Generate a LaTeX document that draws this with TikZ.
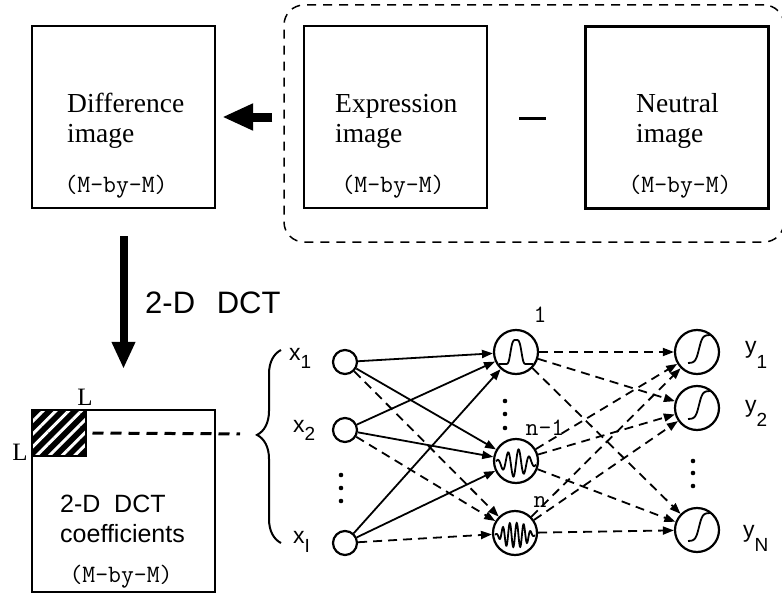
\documentclass[tikz,border=0pt]{standalone}
\usepackage{fontspec}
\setmainfont{Liberation Serif}
\setsansfont{Liberation Sans}
\usetikzlibrary{arrows.meta,decorations.pathreplacing,patterns.meta}

% variable with a lowered index
\newcommand{\varlab}[3]{{\sffamily\fontsize{23}{23}\selectfont #1\raisebox{-#3pt}{\fontsize{19}{19}\selectfont #2}}}

\begin{document}
\begin{tikzpicture}[x=1pt,y=-1pt,
    imgbox/.style={draw,line width=2.3pt,minimum width=183pt,minimum height=182pt,inner sep=0pt},
    groupbox/.style={draw,line width=1.5pt,dash pattern=on 9pt off 7pt,rounded corners=20pt,minimum width=500pt,minimum height=237pt},
    boxtext/.style={anchor=west,align=left,inner sep=0pt,font=\fontsize{27.5}{30}\selectfont},
    dimtext/.style={inner sep=0pt,font=\ttfamily\fontsize{25}{25}\selectfont},
    inp/.style={draw,circle,line width=2.2pt,minimum size=24pt,inner sep=0pt},
    unit/.style={draw,circle,line width=2.2pt,minimum size=44pt,inner sep=0pt},
    link/.style={line width=1.8pt,-{Triangle[length=11pt,width=8pt]}},
    dlink/.style={link,dash pattern=on 9pt off 6pt},
    fatarrow/.style={line width=9pt,-{Triangle[length=31pt,width=25pt]}},
  ]
  \useasboundingbox (0,0) rectangle (782,594);

  % top row: the three images
  \node[imgbox] (diff) at (123.5,117) {};
  \node[imgbox] (expr) at (395.5,117) {};
  \node[imgbox] (neut) at (677,117.5) {};
  \node[groupbox] (pair) at (534,123.5) {}; % dashed frame round the two inputs
  \node[boxtext] (difft) at (67,121) {Difference\\image};
  \node[boxtext] (exprt) at (335,121) {Expression\\image};
  \node[boxtext] (neutt) at (636,121) {Neutral\\image};
  \node[dimtext] (diffd) at (116,187) {(M-by-M)};
  \node[dimtext] (exprd) at (393,187) {(M-by-M)};
  \node[dimtext] (neutd) at (680,187) {(M-by-M)};
  \draw[line width=3pt] (519,118) -- (546,118); % minus sign
  \draw[fatarrow,shorten <=11pt,shorten >=6pt] (pair.west |- diff.east) -- (diff.east);

  % DCT block
  \node[imgbox] (dct) at (123.5,501) {};
  \draw[line width=8pt,-{Triangle[length=27pt,width=22pt]},shorten <=27pt,shorten >=40pt] (diff.south) -- (dct.north);
  \node[anchor=west,inner sep=0pt,font=\sffamily\fontsize{31}{31}\selectfont] (dctlab) at (145,303) {2-D\hspace{0.7em}DCT};
  \node[anchor=west,align=left,inner sep=0pt,font=\sffamily\fontsize{25}{30}\selectfont] (dctt) at (60,519) {2-D\hspace{0.55em}DCT\\coefficients};
  \node[dimtext] (dctd) at (121,577) {(M-by-M)};
  \node[draw,line width=2.5pt,minimum width=54pt,minimum height=46pt,inner sep=0pt,
    preaction={fill=black},pattern={Lines[angle=45,distance=9pt,line width=3pt]},pattern color=white] (blk) at (59,433) {}; % L-by-L corner
  \node[inner sep=0pt,font=\fontsize{25}{25}\selectfont] (ltop) at (85,397) {L};
  \node[inner sep=0pt,font=\fontsize{25}{25}\selectfont] (lleft) at (20,452) {L};

  % brace gathering the inputs
  \coordinate (brb) at (281,543);
  \coordinate (brt) at (281,350);
  \coordinate (tip) at (257,434);
  \draw[line width=2pt,decorate,decoration={brace,amplitude=24pt,aspect=0.56}] (brb) -- (brt);
  \draw[line width=3pt,dash pattern=on 11pt off 7pt,shorten <=5pt,shorten >=17pt] (blk.east) -- (tip);

  % network
  \node[inp] (in1) at (345,362) {};
  \node[inp] (in2) at (345,430) {};
  \node[inp] (in3) at (345,543) {};
  \node[unit] (h1) at (516,352) {};
  \node[unit] (h2) at (516,461) {};
  \node[unit] (h3) at (515,533) {};
  \node[unit] (o1) at (697,352) {};
  \node[unit] (o2) at (697,408) {};
  \node[unit] (o3) at (697,530) {};

  \node[anchor=base west,inner sep=0pt] (xl1) at (289,360) {\varlab{x}{1}{8}};
  \node[anchor=base west,inner sep=0pt] (xl2) at (293,432) {\varlab{x}{2}{8}};
  \node[anchor=base west,inner sep=0pt] (xl3) at (293,543) {\varlab{x}{I}{9}};
  \node[anchor=base west,inner sep=0pt] (yl1) at (745,353) {\varlab{y}{1}{15}};
  \node[anchor=base west,inner sep=0pt] (yl2) at (745,412) {\varlab{y}{2}{14}};
  \node[anchor=base west,inner sep=0pt] (yl3) at (743,537) {\varlab{y}{N}{14}};
  \node[dimtext] (hl1) at (540,315) {1};
  \node[dimtext] (hl2) at (545,428) {n-1};
  \node[dimtext] (hl3) at (540,502) {n};

  \foreach \yy in {475,488,501} \fill (341,\yy) circle (2.3pt); % vertical dots
  \foreach \yy in {401,414,428} \fill (505,\yy) circle (2.3pt);
  \foreach \yy in {461,473,486} \fill (693,\yy) circle (2.3pt);

  \foreach \i in {in1,in2,in3} {
    \draw[link] (\i) -- (h1);
    \draw[link] (\i) -- (h2);
    \draw[dlink] (\i) -- (h3);
  }
  \foreach \h in {h1,h2,h3}
    \foreach \o in {o1,o2,o3}
      \draw[dlink] (\h) -- (\o);

  % unit responses
  \draw[line width=1.8pt,shift={(h1)}] plot[domain=-17:17,samples=61,smooth] (\x,{12-24*exp(-1*((\x/6)*(\x/6))^2)});
  \draw[line width=1.8pt,shift={(h2)}] plot[domain=-20:20,samples=120,smooth] (\x,{2-14*sin(\x*34)*exp(-1*(\x/15)*(\x/15))});
  \draw[line width=1.8pt,shift={(h3)}] plot[domain=-20:20,samples=150,smooth] (\x,{2-12*sin(\x*52)*exp(-1*((\x/15)*(\x/15))^2)});
  \foreach \o in {o1,o2,o3}
    \draw[line width=1.8pt,shift={(\o)}] plot[domain=-9:13,samples=50,smooth] (\x,{-3-14*tanh((\x-2)/3.5)});
\end{tikzpicture}
\end{document}
